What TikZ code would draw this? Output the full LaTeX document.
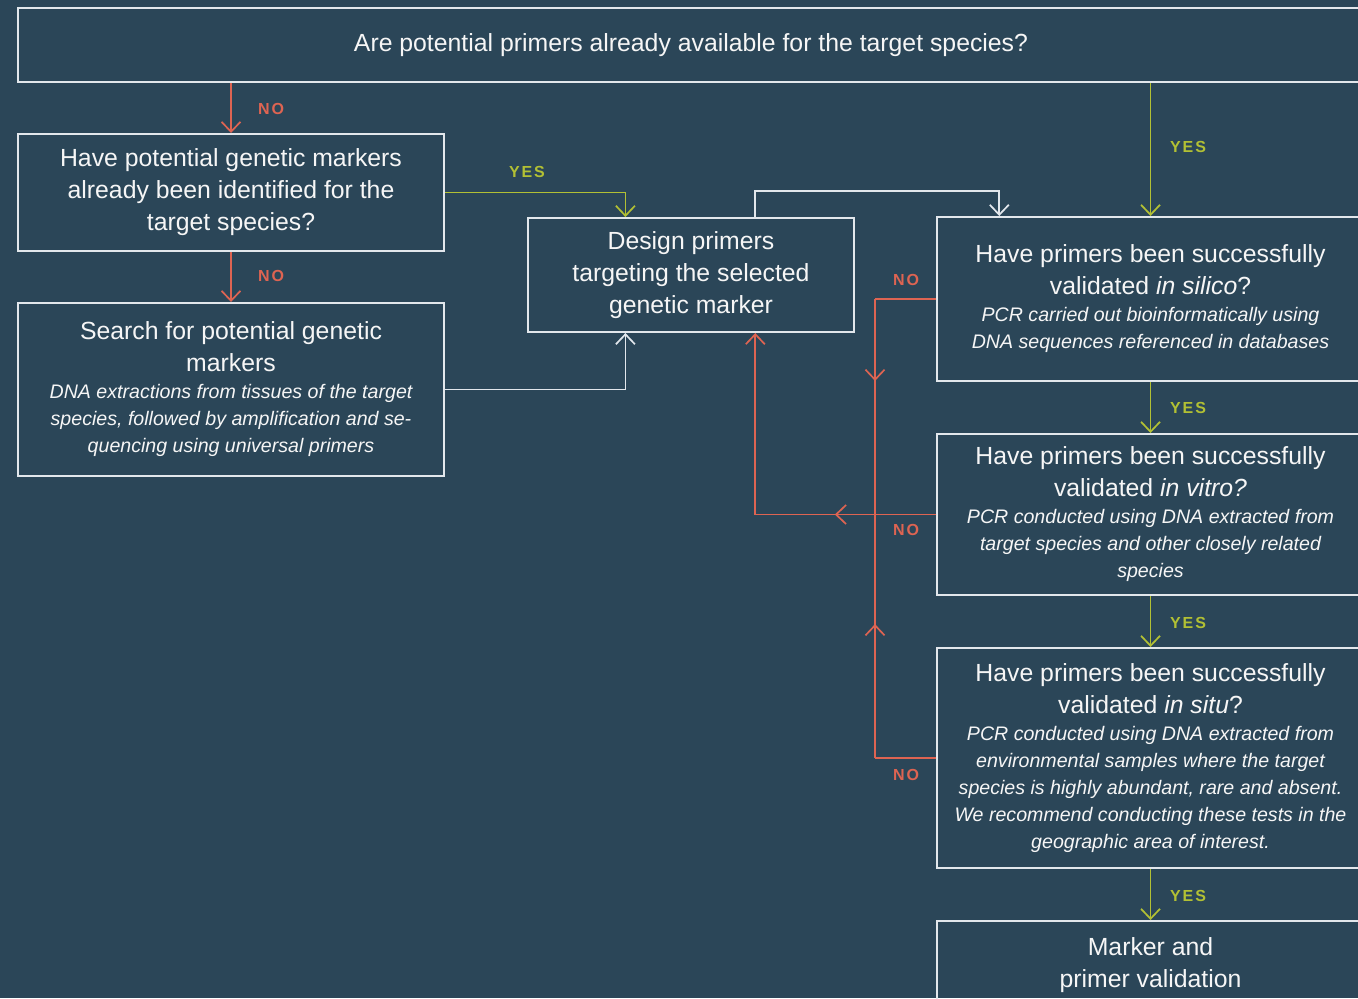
\documentclass[tikz,border=0pt]{standalone}
\usepackage{fontspec}
\setmainfont{Liberation Sans}
\newfontfamily\labelfamily{Liberation Sans}[LetterSpace=12]
\usetikzlibrary{arrows.meta,calc,decorations.markings}

\definecolor{bgcol}{RGB}{43,70,88}
\definecolor{nocol}{RGB}{222,100,82}
\definecolor{yescol}{RGB}{178,192,52}
\definecolor{boxline}{RGB}{226,231,236}
\definecolor{txtcol}{RGB}{246,246,246}

\newcommand{\boxhead}{\fontsize{12.4pt}{16pt}\selectfont\upshape}
\newcommand{\boxnote}{\fontsize{9.8pt}{13.5pt}\selectfont\itshape}

\tikzset{
  >={Straight Barb[length=5pt,width=9.5pt]},
  box/.style={draw=boxline, line width=1pt, text=txtcol, align=flush center,
    inner sep=0pt, font=\boxhead},
  link/.style={line width=0.85pt},
  noline/.style={link, draw=nocol},
  yesline/.style={link, draw=yescol},
  plainline/.style={link, draw=boxline},
  lbl/.style={font=\labelfamily\bfseries\fontsize{8pt}{9pt}\selectfont, inner sep=0pt},
  midarrow/.style={postaction={decorate}, decoration={markings,
    mark=at position #1 with {\arrow{>}}}},
}

\begin{document}
\begin{tikzpicture}[x=0.5pt,y=-0.5pt]
  \useasboundingbox (0,0) rectangle (1358,998);
  \clip (0,0) rectangle (1358,998);
  \fill[bgcol] (0,0) rectangle (1358,998);

  % question and action boxes
  \node[box, minimum width=673pt, minimum height=37pt] (Top) at (691,45)
    {Are potential primers already available for the target species?};
  \node[box, minimum width=213pt, minimum height=58.5pt] (A) at (231,192.5)
    {Have potential genetic markers\\ already been identified for the\\ target species?};
  \node[box, text width=205pt, minimum width=213pt, minimum height=86.5pt] (B) at (231,389.5)
    {Search for potential genetic\\ markers\par
     \boxnote DNA extractions from tissues of the target\\ species, followed by amplification and se-\\ quencing using universal primers\par};
  \node[box, minimum width=163pt, minimum height=57pt] (C) at (691,275)
    {Design primers\\ targeting the selected\\ genetic marker};
  \node[box, text width=205pt, minimum width=213.5pt, minimum height=82pt] (D) at (1150.5,299)
    {Have primers been successfully\\ validated \textit{in silico}?\par
     \boxnote PCR carried out bioinformatically using\\ DNA sequences referenced in databases\par};
  \node[box, text width=205pt, minimum width=213.5pt, minimum height=80.5pt] (E) at (1150.5,514.5)
    {Have primers been successfully\\ validated \textit{in vitro?}\par
     \boxnote PCR conducted using DNA extracted from\\ target species and other closely related\\ species\par};
  \node[box, text width=205pt, minimum width=213.5pt, minimum height=110pt] (F) at (1150.5,758)
    {Have primers been successfully\\ validated \textit{in situ}?\par
     \boxnote PCR conducted using DNA extracted from\\ environmental samples where the target\\ species is highly abundant, rare and absent.\\ We recommend conducting these tests in the\\ geographic area of interest.\par};
  \node[box, minimum width=213.5pt, minimum height=44pt] (G) at (1150.5,965)
    {Marker and\\ primer validation};

  % attachment points on the design box and the in silico box
  \coordinate (Cin) at ($(C.north west)!0.30!(C.north east)$);
  \coordinate (Cout) at ($(C.north west)!0.696!(C.north east)$);
  \coordinate (Cfrom) at ($(C.south west)!0.30!(C.south east)$);
  \coordinate (Cret) at ($(C.south west)!0.696!(C.south east)$);
  \coordinate (Din) at ($(D.north west)!0.1475!(D.north east)$);

  % left branch
  \draw[noline,->] (Top.south -| A.north) -- (A.north);
  \draw[noline,->] (A) -- (B);
  \draw[yesline,->] (A.east) -| (Cin);
  \draw[plainline,->] (B.east) -| (Cfrom);
  \draw[plainline,->] (Cout) -- ++(0,-26) -| (Din);

  % right branch: validation chain
  \draw[yesline,->] (Top.south -| D.north) -- (D.north);
  \draw[yesline,->] (D) -- (E);
  \draw[yesline,->] (E) -- (F);
  \draw[yesline,->] (F) -- (G);

  % failure returns to primer design
  \coordinate (J1) at ($(D.west)+(-61,0)$);
  \coordinate (J2) at (J1 |- E.west);
  \coordinate (J3) at (J1 |- F.west);
  \coordinate (K) at (Cret |- E.west);
  \draw[noline] (D.west) -- (J1);
  \draw[noline, midarrow=0.38] (J1) -- (J2);
  \draw[noline] (F.west) -- (J3);
  \draw[noline, midarrow=0.55] (J3) -- (J2);
  \draw[noline, midarrow=0.56] (E.west) -- (K);
  \draw[noline,->] (K) -- (Cret);

  % branch labels
  \node[lbl, text=nocol] (no1) at (271,109) {NO};
  \node[lbl, text=nocol] (no2) at (271,276) {NO};
  \node[lbl, text=nocol] (no3) at (906,280) {NO};
  \node[lbl, text=nocol] (no4) at (906,530) {NO};
  \node[lbl, text=nocol] (no5) at (906,775) {NO};
  \node[lbl, text=yescol] (yes1) at (527,172) {YES};
  \node[lbl, text=yescol] (yes2) at (1188,147) {YES};
  \node[lbl, text=yescol] (yes3) at (1188,408) {YES};
  \node[lbl, text=yescol] (yes4) at (1188,623) {YES};
  \node[lbl, text=yescol] (yes5) at (1188,896) {YES};
\end{tikzpicture}
\end{document}
